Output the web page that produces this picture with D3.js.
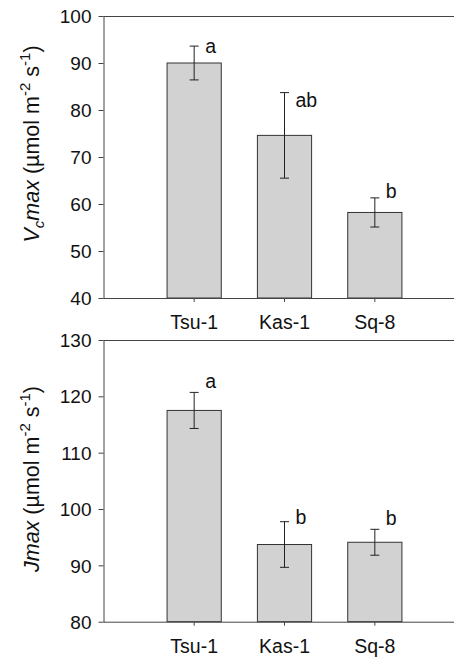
<!DOCTYPE html>
<html>
<head>
<meta charset="utf-8">
<script src="https://cdn.jsdelivr.net/npm/d3@7"></script>
<style>
  body { margin: 0; background: #fff; }
  svg text { font-family: "Liberation Sans", Arial, sans-serif; fill: #111; }
</style>
</head>
<body>
<div id="chart"></div>
<script>
// accessions
let accessions = ["Tsu-1", "Kas-1", "Sq-8"]

// Vcmax panel
let vcmaxMean = [90.0, 74.6, 58.2]
let vcmaxErr = [3.6, 9.1, 3.1]
let vcmaxLetters = ["a", "ab", "b"]
let vcmaxLetterAt = [92.1, 80.6, 61.3]
let vcmaxTicks = [40, 50, 60, 70, 80, 90, 100]

// Jmax panel
let jmaxMean = [117.5, 93.7, 94.1]
let jmaxErr = [3.2, 4.05, 2.3]
let jmaxLetters = ["a", "b", "b"]
let jmaxLetterAt = [121.4, 97.4, 97.1]
let jmaxTicks = [80, 90, 100, 110, 120, 130]

let W = 454, H = 657

let svg = d3.select("#chart")
    .append("svg")
    .attr("width", W)
    .attr("height", H)

function drawPanel(opt) {
    let left = 103.5, right = 460
    let x = d3.scaleBand()
        .domain(accessions)
        .range([149, 420])
        .paddingInner(0.4)
        .paddingOuter(0.2)
    let y = d3.scaleLinear()
        .domain([opt.ticks[0], opt.ticks[opt.ticks.length - 1]])
        .range([opt.bottom, opt.top])

    let g = svg.append("g")

    //上边框线
    g.append("line")
        .attr("x1", left).attr("x2", right)
        .attr("y1", opt.top + 0.5).attr("y2", opt.top + 0.5)
        .attr("stroke", "#444").attr("stroke-width", 1)

    //y轴
    let yAxis = d3.axisLeft(y)
        .tickValues(opt.ticks)
        .tickSize(5)
        .tickPadding(7)
        .tickSizeOuter(0)
    let ya = g.append("g")
        .attr("transform", "translate(" + left + ",0)")
        .call(yAxis)
    ya.selectAll("text").style("font-size", "19px").attr("dy", "0.35em")
    ya.selectAll("line, path").attr("stroke", "#444")

    //柱子
    g.selectAll(".bar")
        .data(opt.mean)
        .enter()
        .append("rect")
        .attr("class", "bar")
        .attr("x", (d, i) => x(accessions[i]))
        .attr("width", x.bandwidth())
        .attr("y", d => y(d))
        .attr("height", d => y(opt.ticks[0]) - y(d))
        .attr("fill", "#d2d2d2")
        .attr("stroke", "#333")
        .attr("stroke-width", 1)

    //误差线
    let cap = 4.5
    opt.mean.forEach(function (m, i) {
        let cx = x(accessions[i]) + x.bandwidth() / 2
        let y1 = y(m + opt.err[i]), y2 = y(m - opt.err[i])
        g.append("line")
            .attr("x1", cx).attr("x2", cx).attr("y1", y1).attr("y2", y2)
            .attr("stroke", "#222").attr("stroke-width", 1)
        ;[y1, y2].forEach(function (yy) {
            g.append("line")
                .attr("x1", cx - cap).attr("x2", cx + cap).attr("y1", yy).attr("y2", yy)
                .attr("stroke", "#222").attr("stroke-width", 1)
        })
        g.append("text")
            .attr("x", cx + 11)
            .attr("y", y(opt.letterAt[i]))
            .style("font-size", "19.5px")
            .text(opt.letters[i])
    })

    //x轴
    let xAxis = d3.axisBottom(x)
        .tickSize(4)
        .tickPadding(13)
        .tickSizeOuter(0)
    let xa = g.append("g")
        .attr("transform", "translate(0," + opt.bottom + ")")
        .call(xAxis)
    xa.select(".domain").remove()
    xa.selectAll("line").attr("stroke", "#444")
    xa.selectAll("text").style("font-size", "19.5px")
    g.append("line")
        .attr("x1", left).attr("x2", right)
        .attr("y1", opt.bottom + 0.5).attr("y2", opt.bottom + 0.5)
        .attr("stroke", "#444").attr("stroke-width", 1)

    //y轴标题
    let t = g.append("text")
        .attr("transform", "translate(39," + opt.titleY + ") rotate(-90)")
        .attr("text-anchor", "middle")
        .style("font-size", "21.5px")
    opt.title(t)
}

function unitsTail(t) {
    t.append("tspan").text(" (µmol m")
    t.append("tspan").style("font-size", "15px").attr("dy", -9).text("-2")
    t.append("tspan").attr("dy", 9).text(" s")
    t.append("tspan").style("font-size", "15px").attr("dy", -9).text("-1")
    t.append("tspan").attr("dy", 9).text(")")
}

drawPanel({
    top: 16, bottom: 298,
    ticks: vcmaxTicks, mean: vcmaxMean, err: vcmaxErr,
    letters: vcmaxLetters, letterAt: vcmaxLetterAt,
    titleY: 144,
    title: function (t) {
        t.append("tspan").style("font-style", "italic").text("V")
        t.append("tspan").style("font-style", "italic").style("font-size", "15px").attr("dy", 5).text("c")
        t.append("tspan").style("font-style", "italic").attr("dy", -5).text("max")
        unitsTail(t)
    }
})

drawPanel({
    top: 340, bottom: 621.7,
    ticks: jmaxTicks, mean: jmaxMean, err: jmaxErr,
    letters: jmaxLetters, letterAt: jmaxLetterAt,
    titleY: 479,
    title: function (t) {
        t.append("tspan").style("font-style", "italic").text("Jmax")
        unitsTail(t)
    }
})
</script>
</body>
</html>
